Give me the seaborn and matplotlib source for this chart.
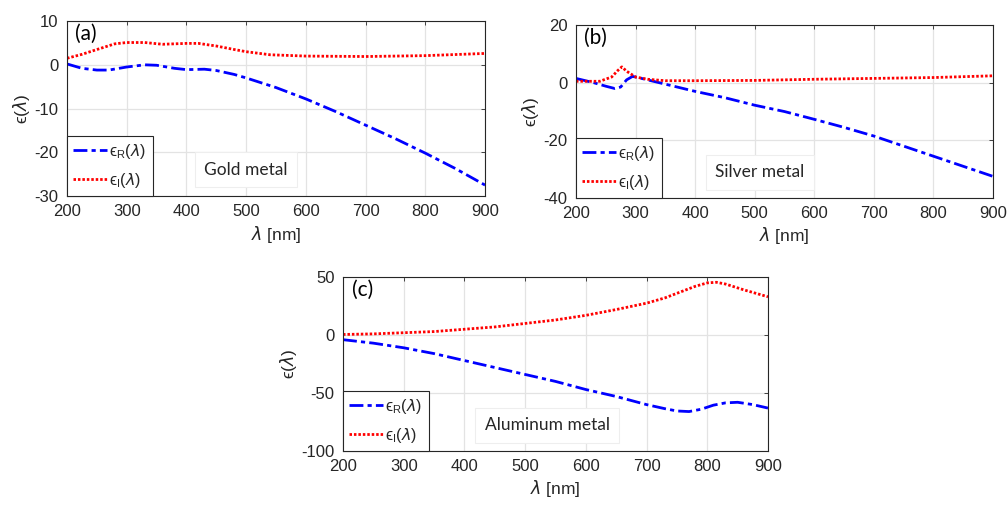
import numpy as np
import pandas as pd
import matplotlib
matplotlib.use("Agg")
import matplotlib.pyplot as plt
import seaborn as sns

# ---------------- data ----------------
gold_wl_R = [200, 225, 250, 270, 300, 330, 350, 380, 400, 430, 450, 480, 500, 550, 600, 650, 700, 750, 800, 850, 900]
gold_eR = [0.2, -0.8, -1.2, -1.2, -0.5, 0.0, -0.1, -0.8, -1.1, -1.0, -1.3, -2.2, -3.0, -5.2, -7.8, -10.7, -13.8, -16.9, -20.2, -23.7, -27.5]
gold_wl_I = [200, 225, 250, 280, 300, 330, 360, 400, 420, 450, 480, 500, 540, 600, 700, 800, 900]
gold_eI = [1.5, 2.4, 3.5, 4.8, 5.1, 5.1, 4.7, 4.9, 4.9, 4.3, 3.5, 3.0, 2.3, 2.0, 1.9, 2.1, 2.6]

silver_wl_R = [200, 230, 250, 265, 275, 285, 295, 310, 350, 400, 450, 500, 550, 600, 650, 700, 750, 800, 850, 900]
silver_eR = [1.5, 0.0, -1.2, -2.0, -1.5, 1.0, 2.2, 1.5, -0.5, -3.0, -5.2, -7.8, -10.0, -12.7, -15.5, -18.5, -22.0, -25.5, -29.0, -32.5]
silver_wl_I = [200, 240, 260, 270, 277, 285, 300, 320, 350, 400, 500, 600, 700, 800, 900]
silver_eI = [0.5, 0.5, 2.0, 4.2, 5.5, 4.0, 2.0, 1.2, 0.7, 0.7, 0.8, 1.2, 1.5, 1.8, 2.4]

al_wl_R = [200, 250, 300, 350, 400, 450, 500, 550, 600, 650, 700, 730, 750, 770, 790, 810, 830, 850, 875, 900]
al_eR = [-4, -7, -11, -16, -22, -28, -34, -40, -47, -53, -60, -63.5, -65.5, -66, -64, -60.5, -58.5, -58, -60, -63]
al_wl_I = [200, 250, 300, 350, 400, 450, 500, 550, 600, 650, 700, 730, 750, 780, 800, 815, 830, 860, 900]
al_eI = [0.5, 1.0, 2.0, 3.0, 5.0, 7.0, 10.0, 13.0, 17.0, 22.0, 27.5, 32, 36, 42, 45, 45.5, 44, 39, 33]

panel_tags = ["(a)", "(b)", "(c)"]
materials = ["Gold metal", "Silver metal", "Aluminum metal"]
ylims = [(-30, 10), (-40, 20), (-100, 50)]
yticks = [[-30, -20, -10, 0, 10], [-40, -20, 0, 20], [-100, -50, 0, 50]]
xticks = [200, 300, 400, 500, 600, 700, 800, 900]
legend_labels = ["\u03f5$_\\mathregular{R}$($\\lambda$)", "\u03f5$_\\mathregular{I}$($\\lambda$)"]
ylabel_text = "\u03f5($\\lambda$)"
xlabel_text = "$\\lambda$ [nm]"

# ---------------- style ----------------
sns.set_style("white")
plt.rcParams["font.family"] = ["Liberation Sans", "DejaVu Sans"]
plt.rcParams["axes.unicode_minus"] = False
plt.rcParams["mathtext.fontset"] = "dejavusans"

fig = plt.figure(figsize=(10.08, 5.07), dpi=100)
rects = [
    [0.0665, 0.6134, 0.4147, 0.345],
    [0.5714, 0.6095, 0.4137, 0.341],
    [0.3403, 0.1105, 0.4216, 0.343],
]
data = [
    (gold_wl_R, gold_eR, gold_wl_I, gold_eI),
    (silver_wl_R, silver_eR, silver_wl_I, silver_eI),
    (al_wl_R, al_eR, al_wl_I, al_eI),
]
text_pos = [(500, -24), (509, -31), (536, -78)]

for i in range(3):
    ax = fig.add_axes(rects[i])
    wlR, eR, wlI, eI = data[i]
    sns.lineplot(x=wlR, y=eR, ax=ax, color="#0000ff", linewidth=2.0,
                 linestyle=(0, (5, 1.5, 1.5, 1.5)), label=legend_labels[0], estimator=None)
    sns.lineplot(x=wlI, y=eI, ax=ax, color="#ff0000", linewidth=2.0,
                 linestyle=(0, (0.9, 0.7)), label=legend_labels[1], estimator=None)
    ax.set_xlim(200, 900)
    ax.set_ylim(*ylims[i])
    ax.set_xticks(xticks)
    ax.set_yticks(yticks[i])
    ax.grid(True, color="#e3e3e3", linewidth=0.9)
    for s in ax.spines.values():
        s.set_color("#262626")
        s.set_linewidth(0.8)
    ax.tick_params(direction="in", length=3, width=0.6, colors="#262626",
                   labelsize=12, top=True, right=True, pad=6)
    ax.set_ylabel(ylabel_text, fontsize=12.5, color="#262626", labelpad=2)
    ax.set_xlabel(xlabel_text, fontsize=12.5, color="#262626", labelpad=3)
    leg = ax.legend(loc="lower left", frameon=True, fancybox=False, fontsize=11.5,
                    handlelength=2.1, borderaxespad=0, borderpad=0.4,
                    handletextpad=0.15, labelspacing=0.6)
    leg.get_frame().set_edgecolor("#262626")
    leg.get_frame().set_linewidth(0.8)
    leg.get_frame().set_alpha(1)
    ax.text(0.02, 0.985, panel_tags[i], transform=ax.transAxes, fontsize=15,
            va="top", ha="left", family=["Lato", "DejaVu Sans"], color="black")
    ax.text(text_pos[i][0], text_pos[i][1], materials[i], fontsize=12.5,
            ha="center", va="center", family=["Lato", "DejaVu Sans"],
            bbox=dict(boxstyle="square,pad=0.55", fc="white", ec="#eeeeee", lw=0.8))

fig.savefig("out.png", dpi=100)
